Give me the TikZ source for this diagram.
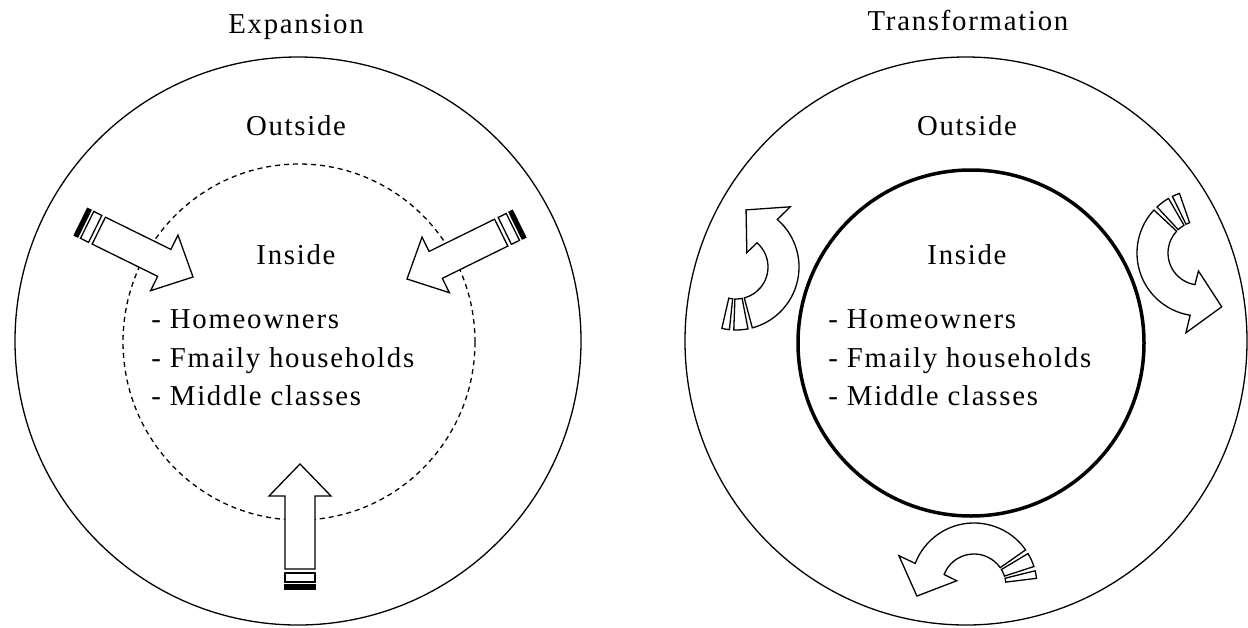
\documentclass[tikz,border=0pt]{standalone}
\usepackage{fontspec}
\setmainfont{Liberation Serif}[LetterSpace=6]
\usepackage{tikz}
\tikzset{
  every node/.style={inner sep=0pt, font=\fontsize{14.4pt}{17pt}\selectfont},
  thin line/.style={line width=0.65pt},
  stripedarrow/.pic={
    \draw[thin line, fill=white] (0,0) -- (-32,31) -- (-32,15) -- (-105,15)
      -- (-105,-15) -- (-32,-15) -- (-32,-31) -- cycle;
    \draw[thin line, fill=white] (-109,15) rectangle (-118,-15);
    \draw[thin line, fill=white] (-121,15) rectangle (-122.5,-15);
    \draw[thin line, fill=white] (-123.5,15) rectangle (-125,-15);
  },
  curvedarrow/.pic={
    \draw[thin line, fill=white] (0:63) arc[start angle=0, end angle=124, radius=63]
      -- (123:81) -- (155:58) -- (128:18) -- (124:32)
      arc[start angle=124, end angle=0, radius=32] -- cycle;
    \draw[thin line, fill=white] (-4:32) -- (-4:63) arc[start angle=-4, end angle=-17, radius=63]
      -- (-17:32) arc[start angle=-17, end angle=-4, radius=32] -- cycle;
    \draw[thin line, fill=white] (-21:32) -- (-21:63) arc[start angle=-21, end angle=-28, radius=63]
      -- (-28:32) arc[start angle=-28, end angle=-21, radius=32] -- cycle;
  },
}
\begin{document}
\begin{tikzpicture}[x=0.5pt, y=0.5pt]
    \useasboundingbox (0,0) rectangle (1248,-627);
    % circles
    \draw[thin line] (298,-341) ellipse [x radius=283, y radius=284];
    \draw[thin line, dash pattern=on 2.5pt off 2pt] (299,-342) ellipse [x radius=176, y radius=178];
    \draw[thin line] (966,-341) ellipse [x radius=281, y radius=284];
    \draw[line width=1.75pt] (971,-343) circle [radius=173];
    % arrows, expansion
    \pic[rotate=-26.2] at (193,-277) {stripedarrow};
    \pic[rotate=-153.8] at (407,-279) {stripedarrow};
    \pic[rotate=90] at (300,-464) {stripedarrow};
    % arrows, transformation
    \pic[rotate=-75] at (736,-267) {curvedarrow};
    \pic[rotate=137] at (1200,-253) {curvedarrow};
    \pic[rotate=35] at (974,-586) {curvedarrow};
    % titles
    \node[anchor=base] (te) at (296,-33) {Expansion};
    \node[anchor=base] (tt) at (968,-30) {Transformation};
    % labels, left
    \node[anchor=base] (ol) at (296,-135) {Outside};
    \node[anchor=base] (il) at (296,-264) {Inside};
    \node[anchor=base west] (hl) at (151,-328) {- Homeowners};
    \node[anchor=base west] (fl) at (151,-367) {- Fmaily households};
    \node[anchor=base west] (ml) at (151,-405) {- Middle classes};
    % labels, right
    \node[anchor=base] (or) at (967,-135) {Outside};
    \node[anchor=base] (ir) at (967,-264) {Inside};
    \node[anchor=base west] (hr) at (828,-328) {- Homeowners};
    \node[anchor=base west] (fr) at (828,-367) {- Fmaily households};
    \node[anchor=base west] (mr) at (828,-405) {- Middle classes};
\end{tikzpicture}
\end{document}
